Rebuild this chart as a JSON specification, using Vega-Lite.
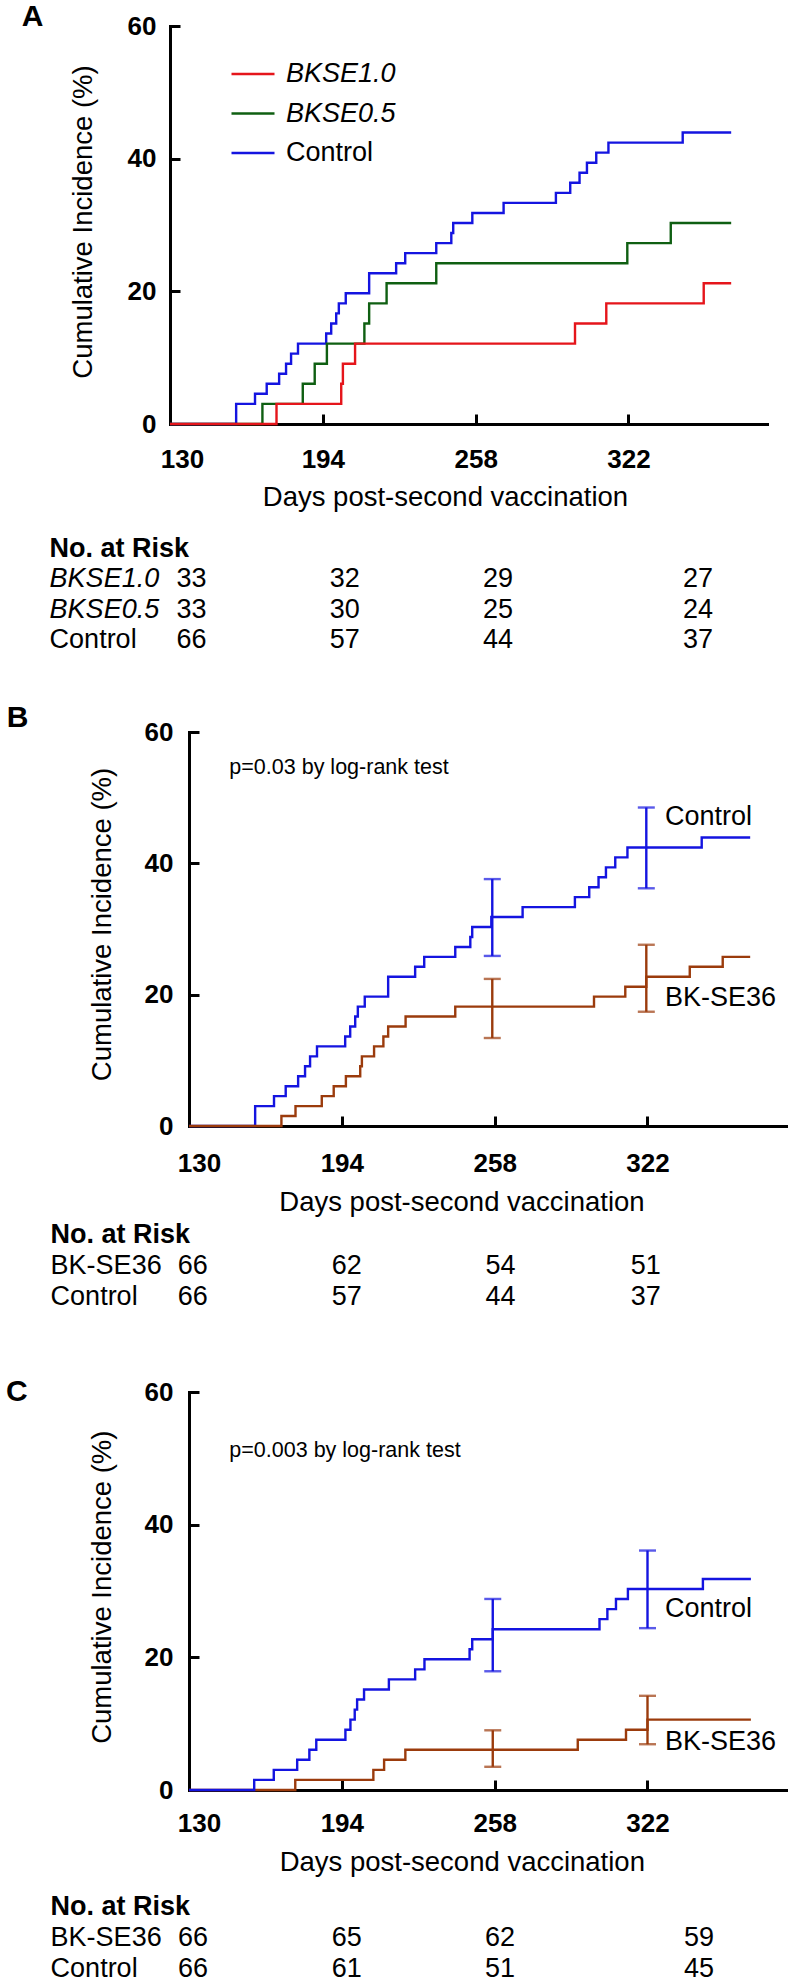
{
  "$schema": "https://vega.github.io/schema/vega-lite/v6.json",
  "autosize": {"type": "none"},
  "padding": {"left": 170, "top": 26, "right": 623, "bottom": 1958},
  "background": "white",
  "spacing": 0,
  "bounds": "flush",
  "resolve": {"scale": {"color": "independent"}, "legend": {"color": "independent"}},
  "config": {
    "view": {"stroke": null},
    "font": "Liberation Sans",
    "axis": {
      "grid": false, "domainColor": "black", "domainWidth": 3, "domainCap": "square",
      "tickColor": "black", "tickWidth": 3, "tickSize": -10,
      "labelFont": "Liberation Sans", "labelFontSize": 26, "labelFontWeight": "bold", "labelColor": "black",
      "labelFlush": false, "labelOverlap": false,
      "titleFont": "Liberation Sans", "titleFontSize": 27.5, "titleFontWeight": "normal", "titleColor": "black"
    },
    "text": {"font": "Liberation Sans", "color": "black"},
    "title": {"font": "Liberation Sans", "color": "black", "fontWeight": "bold", "fontSize": 30, "anchor": "start", "frame": "group", "baseline": "alphabetic"}
  },
  "datasets": {
    "linesA": [
      {"grp": "Control", "day": 130, "pct": 0}, {"grp": "Control", "day": 157.7, "pct": 3.03}, {"grp": "Control", "day": 165.6, "pct": 4.55}, {"grp": "Control", "day": 170.5, "pct": 6.06}, {"grp": "Control", "day": 175.7, "pct": 7.58}, {"grp": "Control", "day": 178.6, "pct": 9.09}, {"grp": "Control", "day": 180.7, "pct": 10.61}, {"grp": "Control", "day": 183.6, "pct": 12.12}, {"grp": "Control", "day": 195.4, "pct": 13.64}, {"grp": "Control", "day": 197.5, "pct": 15.15}, {"grp": "Control", "day": 199.6, "pct": 16.67}, {"grp": "Control", "day": 200.7, "pct": 18.18}, {"grp": "Control", "day": 203.6, "pct": 19.7}, {"grp": "Control", "day": 213.4, "pct": 22.73}, {"grp": "Control", "day": 224.7, "pct": 24.24}, {"grp": "Control", "day": 228.5, "pct": 25.76}, {"grp": "Control", "day": 241.5, "pct": 27.27}, {"grp": "Control", "day": 247.8, "pct": 28.79}, {"grp": "Control", "day": 248.6, "pct": 30.3}, {"grp": "Control", "day": 256.6, "pct": 31.82}, {"grp": "Control", "day": 269.7, "pct": 33.33}, {"grp": "Control", "day": 291.6, "pct": 34.85}, {"grp": "Control", "day": 297.6, "pct": 36.36}, {"grp": "Control", "day": 301.5, "pct": 37.88}, {"grp": "Control", "day": 304.6, "pct": 39.39}, {"grp": "Control", "day": 308.5, "pct": 40.91}, {"grp": "Control", "day": 313.6, "pct": 42.42}, {"grp": "Control", "day": 344.7, "pct": 43.94}, {"grp": "Control", "day": 365, "pct": 43.94},
      {"grp": "BKSE0.5", "day": 130, "pct": 0}, {"grp": "BKSE0.5", "day": 168.7, "pct": 3.03}, {"grp": "BKSE0.5", "day": 185.6, "pct": 6.06}, {"grp": "BKSE0.5", "day": 190.6, "pct": 9.09}, {"grp": "BKSE0.5", "day": 195.7, "pct": 12.12}, {"grp": "BKSE0.5", "day": 211.4, "pct": 15.15}, {"grp": "BKSE0.5", "day": 213.4, "pct": 18.18}, {"grp": "BKSE0.5", "day": 220.7, "pct": 21.21}, {"grp": "BKSE0.5", "day": 241.5, "pct": 24.24}, {"grp": "BKSE0.5", "day": 321.5, "pct": 27.27}, {"grp": "BKSE0.5", "day": 339.7, "pct": 30.3}, {"grp": "BKSE0.5", "day": 365, "pct": 30.3},
      {"grp": "BKSE1.0", "day": 130, "pct": 0}, {"grp": "BKSE1.0", "day": 174.6, "pct": 3.03}, {"grp": "BKSE1.0", "day": 201.7, "pct": 6.06}, {"grp": "BKSE1.0", "day": 202.4, "pct": 9.09}, {"grp": "BKSE1.0", "day": 207.5, "pct": 12.12}, {"grp": "BKSE1.0", "day": 299.6, "pct": 15.15}, {"grp": "BKSE1.0", "day": 312.7, "pct": 18.18}, {"grp": "BKSE1.0", "day": 353.5, "pct": 21.21}, {"grp": "BKSE1.0", "day": 365, "pct": 21.21}
    ],
    "linesB": [
      {"grp": "Control", "day": 130, "pct": 0}, {"grp": "Control", "day": 157.7, "pct": 3.03}, {"grp": "Control", "day": 165.6, "pct": 4.55}, {"grp": "Control", "day": 170.5, "pct": 6.06}, {"grp": "Control", "day": 175.7, "pct": 7.58}, {"grp": "Control", "day": 178.6, "pct": 9.09}, {"grp": "Control", "day": 180.7, "pct": 10.61}, {"grp": "Control", "day": 183.6, "pct": 12.12}, {"grp": "Control", "day": 195.4, "pct": 13.64}, {"grp": "Control", "day": 197.5, "pct": 15.15}, {"grp": "Control", "day": 199.6, "pct": 16.67}, {"grp": "Control", "day": 200.7, "pct": 18.18}, {"grp": "Control", "day": 203.6, "pct": 19.7}, {"grp": "Control", "day": 213.4, "pct": 22.73}, {"grp": "Control", "day": 224.7, "pct": 24.24}, {"grp": "Control", "day": 228.5, "pct": 25.76}, {"grp": "Control", "day": 241.5, "pct": 27.27}, {"grp": "Control", "day": 247.8, "pct": 28.79}, {"grp": "Control", "day": 248.6, "pct": 30.3}, {"grp": "Control", "day": 256.6, "pct": 31.82}, {"grp": "Control", "day": 269.7, "pct": 33.33}, {"grp": "Control", "day": 291.6, "pct": 34.85}, {"grp": "Control", "day": 297.6, "pct": 36.36}, {"grp": "Control", "day": 301.5, "pct": 37.88}, {"grp": "Control", "day": 304.6, "pct": 39.39}, {"grp": "Control", "day": 308.5, "pct": 40.91}, {"grp": "Control", "day": 313.6, "pct": 42.42}, {"grp": "Control", "day": 344.7, "pct": 43.94}, {"grp": "Control", "day": 365, "pct": 43.94},
      {"grp": "BK-SE36", "day": 130, "pct": 0}, {"grp": "BK-SE36", "day": 168.7, "pct": 1.52}, {"grp": "BK-SE36", "day": 174.6, "pct": 3.03}, {"grp": "BK-SE36", "day": 185.6, "pct": 4.55}, {"grp": "BK-SE36", "day": 190.6, "pct": 6.06}, {"grp": "BK-SE36", "day": 195.7, "pct": 7.58}, {"grp": "BK-SE36", "day": 201.7, "pct": 9.09}, {"grp": "BK-SE36", "day": 202.4, "pct": 10.61}, {"grp": "BK-SE36", "day": 207.5, "pct": 12.12}, {"grp": "BK-SE36", "day": 211.4, "pct": 13.64}, {"grp": "BK-SE36", "day": 213.4, "pct": 15.15}, {"grp": "BK-SE36", "day": 220.7, "pct": 16.67}, {"grp": "BK-SE36", "day": 241.5, "pct": 18.18}, {"grp": "BK-SE36", "day": 299.6, "pct": 19.7}, {"grp": "BK-SE36", "day": 312.7, "pct": 21.21}, {"grp": "BK-SE36", "day": 321.5, "pct": 22.73}, {"grp": "BK-SE36", "day": 339.7, "pct": 24.24}, {"grp": "BK-SE36", "day": 353.5, "pct": 25.76}, {"grp": "BK-SE36", "day": 365, "pct": 25.76}
    ],
    "linesC": [
      {"grp": "Control", "day": 130, "pct": 0}, {"grp": "Control", "day": 157.3, "pct": 1.52}, {"grp": "Control", "day": 165.5, "pct": 3.03}, {"grp": "Control", "day": 175.3, "pct": 4.55}, {"grp": "Control", "day": 180.4, "pct": 6.06}, {"grp": "Control", "day": 183.3, "pct": 7.58}, {"grp": "Control", "day": 195.5, "pct": 9.09}, {"grp": "Control", "day": 197.6, "pct": 10.61}, {"grp": "Control", "day": 199.4, "pct": 12.12}, {"grp": "Control", "day": 200.4, "pct": 13.64}, {"grp": "Control", "day": 203.3, "pct": 15.15}, {"grp": "Control", "day": 213.7, "pct": 16.67}, {"grp": "Control", "day": 224.7, "pct": 18.18}, {"grp": "Control", "day": 228.6, "pct": 19.7}, {"grp": "Control", "day": 247.5, "pct": 21.21}, {"grp": "Control", "day": 248.6, "pct": 22.73}, {"grp": "Control", "day": 257.2, "pct": 24.24}, {"grp": "Control", "day": 301.9, "pct": 25.76}, {"grp": "Control", "day": 305.2, "pct": 27.27}, {"grp": "Control", "day": 308.8, "pct": 28.79}, {"grp": "Control", "day": 313.8, "pct": 30.3}, {"grp": "Control", "day": 345.2, "pct": 31.82}, {"grp": "Control", "day": 365.3, "pct": 31.82},
      {"grp": "BK-SE36", "day": 130, "pct": 0}, {"grp": "BK-SE36", "day": 174.5, "pct": 1.52}, {"grp": "BK-SE36", "day": 207.2, "pct": 3.03}, {"grp": "BK-SE36", "day": 211.7, "pct": 4.55}, {"grp": "BK-SE36", "day": 220.6, "pct": 6.06}, {"grp": "BK-SE36", "day": 292.8, "pct": 7.58}, {"grp": "BK-SE36", "day": 313, "pct": 9.09}, {"grp": "BK-SE36", "day": 322, "pct": 10.61}, {"grp": "BK-SE36", "day": 365.3, "pct": 10.61}
    ],
    "errB": [
      {"grp": "Control", "day": 257, "lo": 25.9, "hi": 37.6},
      {"grp": "Control", "day": 321.5, "lo": 36.2, "hi": 48.5},
      {"grp": "BK-SE36", "day": 257, "lo": 13.4, "hi": 22.4},
      {"grp": "BK-SE36", "day": 321.5, "lo": 17.4, "hi": 27.6}
    ],
    "errC": [
      {"grp": "Control", "day": 257.2, "lo": 17.9, "hi": 28.8},
      {"grp": "Control", "day": 322, "lo": 24.4, "hi": 36.1},
      {"grp": "BK-SE36", "day": 257.2, "lo": 3.5, "hi": 9.0},
      {"grp": "BK-SE36", "day": 322, "lo": 6.9, "hi": 14.2}
    ],
    "annB": [
      {"kind": "p", "label": "p=0.03 by log-rank test", "day": 146.9, "pct": 53.6},
      {"kind": "lab", "label": "Control", "day": 329.3, "pct": 45.84},
      {"kind": "lab", "label": "BK-SE36", "day": 329.3, "pct": 18.28}
    ],
    "annC": [
      {"kind": "p", "label": "p=0.003 by log-rank test", "day": 146.9, "pct": 50.25},
      {"kind": "lab", "label": "Control", "day": 329.3, "pct": 26.08},
      {"kind": "lab", "label": "BK-SE36", "day": 329.3, "pct": 6.03}
    ],
    "tableA": [
      {"kind": "head", "row": 0, "col": 0, "label": "No. at Risk"},
      {"kind": "nameit", "row": 1, "col": 0, "label": "BKSE1.0"},
      {"kind": "num", "row": 1, "col": 1, "n": 33}, {"kind": "num", "row": 1, "col": 2, "n": 32}, {"kind": "num", "row": 1, "col": 3, "n": 29}, {"kind": "num", "row": 1, "col": 4, "n": 27},
      {"kind": "nameit", "row": 2, "col": 0, "label": "BKSE0.5"},
      {"kind": "num", "row": 2, "col": 1, "n": 33}, {"kind": "num", "row": 2, "col": 2, "n": 30}, {"kind": "num", "row": 2, "col": 3, "n": 25}, {"kind": "num", "row": 2, "col": 4, "n": 24},
      {"kind": "name", "row": 3, "col": 0, "label": "Control"},
      {"kind": "num", "row": 3, "col": 1, "n": 66}, {"kind": "num", "row": 3, "col": 2, "n": 57}, {"kind": "num", "row": 3, "col": 3, "n": 44}, {"kind": "num", "row": 3, "col": 4, "n": 37}
    ],
    "tableB": [
      {"kind": "head", "row": 0, "col": 0, "label": "No. at Risk"},
      {"kind": "name", "row": 1, "col": 0, "label": "BK-SE36"},
      {"kind": "num", "row": 1, "col": 1, "n": 66}, {"kind": "num", "row": 1, "col": 2, "n": 62}, {"kind": "num", "row": 1, "col": 3, "n": 54}, {"kind": "num", "row": 1, "col": 4, "n": 51},
      {"kind": "name", "row": 2, "col": 0, "label": "Control"},
      {"kind": "num", "row": 2, "col": 1, "n": 66}, {"kind": "num", "row": 2, "col": 2, "n": 57}, {"kind": "num", "row": 2, "col": 3, "n": 44}, {"kind": "num", "row": 2, "col": 4, "n": 37}
    ],
    "tableC": [
      {"kind": "head", "row": 0, "col": 0, "label": "No. at Risk"},
      {"kind": "name", "row": 1, "col": 0, "label": "BK-SE36"},
      {"kind": "num", "row": 1, "col": 1, "n": 66}, {"kind": "num", "row": 1, "col": 2, "n": 65}, {"kind": "num", "row": 1, "col": 3, "n": 62}, {"kind": "num", "row": 1, "col": 4, "n": 59},
      {"kind": "name", "row": 2, "col": 0, "label": "Control"},
      {"kind": "num", "row": 2, "col": 1, "n": 66}, {"kind": "num", "row": 2, "col": 2, "n": 61}, {"kind": "num", "row": 2, "col": 3, "n": 51}, {"kind": "num", "row": 2, "col": 4, "n": 45}
    ]
  },
  "vconcat": [
    {
      "width": 597, "height": 398,
      "title": {"text": "A", "dx": -148.3, "offset": -18.7},
      "data": {"name": "linesA"},
      "encoding": {
        "x": {"field": "day", "type": "quantitative", "scale": {"domain": [130, 380], "nice": false, "zero": false},
          "axis": {"values": [130, 194, 258, 322], "title": "Days post-second vaccination", "labelPadding": 32.6,
            "labelOffset": {"condition": {"test": "datum.value == 130", "value": 12}, "value": 0},
            "titleX": 275, "titleY": 81.4, "titleAlign": "center", "titleBaseline": "alphabetic"}},
        "y": {"field": "pct", "type": "quantitative", "scale": {"domain": [0, 60], "nice": false},
          "axis": {"values": [0, 20, 40, 60], "title": "Cumulative Incidence (%)", "labelPadding": 24,
            "titleX": -78.5, "titleY": 195.5, "titleAlign": "center", "titleBaseline": "alphabetic", "titleAngle": -90}},
        "color": {"field": "grp", "type": "nominal",
          "scale": {"domain": ["BKSE1.0", "BKSE0.5", "Control"], "range": ["#e5151b", "#0f5f12", "#1414e0"]},
          "legend": {"orient": "none", "legendX": 60, "legendY": 25, "title": null, "symbolType": "stroke", "symbolSize": 1849,
            "symbolStrokeWidth": 2.5, "labelFont": "Liberation Sans", "labelFontSize": 27, "labelColor": "black", "labelOffset": 10,
            "rowPadding": 3.5, "padding": 0, "labelLimit": 400,
            "encode": {"labels": {"update": {"fontStyle": {"signal": "datum.label == 'Control' ? 'normal' : 'italic'"}}}}}}
      },
      "layer": [
        {"transform": [{"filter": "datum.grp == 'Control'"}], "mark": {"type": "line", "interpolate": "step-after", "strokeWidth": 2.4}},
        {"transform": [{"filter": "datum.grp == 'BKSE0.5'"}], "mark": {"type": "line", "interpolate": "step-after", "strokeWidth": 2.4}},
        {"transform": [{"filter": "datum.grp == 'BKSE1.0'"}], "mark": {"type": "line", "interpolate": "step-after", "strokeWidth": 2.4}}
      ]
    },
    {
      "width": 597, "height": 308,
      "data": {"name": "tableA"},
      "encoding": {
        "x": {"field": "col", "type": "quantitative", "scale": {"domain": [0, 1, 2, 3, 4], "range": [-120.4, 21.5, 174.7, 328, 528], "zero": false, "nice": false}, "axis": null},
        "y": {"field": "row", "type": "quantitative", "scale": {"domain": [0, 3], "range": [132.7, 224.2], "zero": false, "nice": false}, "axis": null}
      },
      "layer": [
        {"transform": [{"filter": "datum.kind == 'head'"}], "mark": {"type": "text", "align": "left", "baseline": "alphabetic", "fontSize": 27, "fontWeight": "bold"}, "encoding": {"text": {"field": "label"}}},
        {"transform": [{"filter": "datum.kind == 'nameit'"}], "mark": {"type": "text", "align": "left", "baseline": "alphabetic", "fontSize": 27, "fontStyle": "italic"}, "encoding": {"text": {"field": "label"}}},
        {"transform": [{"filter": "datum.kind == 'name'"}], "mark": {"type": "text", "align": "left", "baseline": "alphabetic", "fontSize": 27}, "encoding": {"text": {"field": "label"}}},
        {"transform": [{"filter": "datum.kind == 'num'"}], "mark": {"type": "text", "align": "center", "baseline": "alphabetic", "fontSize": 27}, "encoding": {"text": {"field": "n", "type": "quantitative"}}}
      ]
    },
    {
      "width": 616, "height": 394,
      "title": {"text": "B", "dx": -163.3, "offset": -14.3},
      "layer": [
        {
          "data": {"name": "linesB"},
          "transform": [{"filter": "datum.grp == 'Control'"}],
          "mark": {"type": "line", "interpolate": "step-after", "strokeWidth": 2.4, "color": "#1414e0"},
          "encoding": {
            "x": {"field": "day", "type": "quantitative", "scale": {"domain": [130, 380], "range": [19, 616], "nice": false, "zero": false},
              "axis": {"values": [130, 194, 258, 322], "title": "Days post-second vaccination", "labelPadding": 34,
                "labelOffset": {"condition": {"test": "datum.value == 130", "value": 10}, "value": 0},
                "titleX": 291.5, "titleY": 84.4, "titleAlign": "center", "titleBaseline": "alphabetic"}},
            "y": {"field": "pct", "type": "quantitative", "scale": {"domain": [0, 60], "nice": false},
              "axis": {"values": [0, 20, 40, 60], "title": "Cumulative Incidence (%)", "labelPadding": 26, "offset": -19,
                "titleX": -78.5, "titleY": 192, "titleAlign": "center", "titleBaseline": "alphabetic", "titleAngle": -90}}
          }
        },
        {
          "data": {"name": "linesB"},
          "transform": [{"filter": "datum.grp == 'BK-SE36'"}],
          "mark": {"type": "line", "interpolate": "step-after", "strokeWidth": 2.4, "color": "#9b3b0c"},
          "encoding": {"x": {"field": "day", "type": "quantitative"}, "y": {"field": "pct", "type": "quantitative"}}
        },
        {
          "data": {"name": "errB"},
          "mark": {"type": "rule", "strokeWidth": 2.4},
          "encoding": {"x": {"field": "day", "type": "quantitative"}, "y": {"field": "lo", "type": "quantitative"}, "y2": {"field": "hi"},
            "color": {"field": "grp", "type": "nominal", "scale": {"domain": ["BK-SE36", "Control"], "range": ["#9b3b0c", "#1414e0"]}, "legend": null}}
        },
        {
          "data": {"name": "errB"},
          "mark": {"type": "tick", "orient": "horizontal", "thickness": 2.4, "size": 17},
          "encoding": {"x": {"field": "day", "type": "quantitative"}, "y": {"field": "lo", "type": "quantitative"},
            "color": {"field": "grp", "type": "nominal", "legend": null}}
        },
        {
          "data": {"name": "errB"},
          "mark": {"type": "tick", "orient": "horizontal", "thickness": 2.4, "size": 17},
          "encoding": {"x": {"field": "day", "type": "quantitative"}, "y": {"field": "hi", "type": "quantitative"},
            "color": {"field": "grp", "type": "nominal", "legend": null}}
        },
        {
          "data": {"name": "annB"},
          "transform": [{"filter": "datum.kind == 'p'"}],
          "mark": {"type": "text", "align": "left", "baseline": "alphabetic", "fontSize": 21.5},
          "encoding": {"x": {"field": "day", "type": "quantitative"}, "y": {"field": "pct", "type": "quantitative"}, "text": {"field": "label"}}
        },
        {
          "data": {"name": "annB"},
          "transform": [{"filter": "datum.kind == 'lab'"}],
          "mark": {"type": "text", "align": "left", "baseline": "alphabetic", "fontSize": 27},
          "encoding": {"x": {"field": "day", "type": "quantitative"}, "y": {"field": "pct", "type": "quantitative"}, "text": {"field": "label"}}
        }
      ]
    },
    {
      "width": 597, "height": 266,
      "data": {"name": "tableB"},
      "encoding": {
        "x": {"field": "col", "type": "quantitative", "scale": {"domain": [0, 1, 2, 3, 4], "range": [-119.4, 22.8, 176.7, 330.5, 475.8], "zero": false, "nice": false}, "axis": null},
        "y": {"field": "row", "type": "quantitative", "scale": {"domain": [0, 2], "range": [117.3, 178.5], "zero": false, "nice": false}, "axis": null}
      },
      "layer": [
        {"transform": [{"filter": "datum.kind == 'head'"}], "mark": {"type": "text", "align": "left", "baseline": "alphabetic", "fontSize": 27, "fontWeight": "bold"}, "encoding": {"text": {"field": "label"}}},
        {"transform": [{"filter": "datum.kind == 'name'"}], "mark": {"type": "text", "align": "left", "baseline": "alphabetic", "fontSize": 27}, "encoding": {"text": {"field": "label"}}},
        {"transform": [{"filter": "datum.kind == 'num'"}], "mark": {"type": "text", "align": "center", "baseline": "alphabetic", "fontSize": 27}, "encoding": {"text": {"field": "n", "type": "quantitative"}}}
      ]
    },
    {
      "width": 616, "height": 398,
      "title": {"text": "C", "dx": -164, "offset": -28},
      "layer": [
        {
          "data": {"name": "linesC"},
          "transform": [{"filter": "datum.grp == 'BK-SE36'"}],
          "mark": {"type": "line", "interpolate": "step-after", "strokeWidth": 2.4, "color": "#9b3b0c"},
          "encoding": {
            "x": {"field": "day", "type": "quantitative", "scale": {"domain": [130, 380], "range": [19, 616], "nice": false, "zero": false},
              "axis": {"values": [130, 194, 258, 322], "title": "Days post-second vaccination", "labelPadding": 30.5,
                "labelOffset": {"condition": {"test": "datum.value == 130", "value": 10}, "value": 0},
                "titleX": 291.8, "titleY": 80.4, "titleAlign": "center", "titleBaseline": "alphabetic"}},
            "y": {"field": "pct", "type": "quantitative", "scale": {"domain": [0, 60], "nice": false},
              "axis": {"values": [0, 20, 40, 60], "title": "Cumulative Incidence (%)", "labelPadding": 26, "offset": -19,
                "titleX": -78.5, "titleY": 194.7, "titleAlign": "center", "titleBaseline": "alphabetic", "titleAngle": -90}}
          }
        },
        {
          "data": {"name": "linesC"},
          "transform": [{"filter": "datum.grp == 'Control'"}],
          "mark": {"type": "line", "interpolate": "step-after", "strokeWidth": 2.4, "color": "#1414e0"},
          "encoding": {"x": {"field": "day", "type": "quantitative"}, "y": {"field": "pct", "type": "quantitative"}}
        },
        {
          "data": {"name": "errC"},
          "mark": {"type": "rule", "strokeWidth": 2.4},
          "encoding": {"x": {"field": "day", "type": "quantitative"}, "y": {"field": "lo", "type": "quantitative"}, "y2": {"field": "hi"},
            "color": {"field": "grp", "type": "nominal", "scale": {"domain": ["BK-SE36", "Control"], "range": ["#9b3b0c", "#1414e0"]}, "legend": null}}
        },
        {
          "data": {"name": "errC"},
          "mark": {"type": "tick", "orient": "horizontal", "thickness": 2.4, "size": 17},
          "encoding": {"x": {"field": "day", "type": "quantitative"}, "y": {"field": "lo", "type": "quantitative"},
            "color": {"field": "grp", "type": "nominal", "legend": null}}
        },
        {
          "data": {"name": "errC"},
          "mark": {"type": "tick", "orient": "horizontal", "thickness": 2.4, "size": 17},
          "encoding": {"x": {"field": "day", "type": "quantitative"}, "y": {"field": "hi", "type": "quantitative"},
            "color": {"field": "grp", "type": "nominal", "legend": null}}
        },
        {
          "data": {"name": "annC"},
          "transform": [{"filter": "datum.kind == 'p'"}],
          "mark": {"type": "text", "align": "left", "baseline": "alphabetic", "fontSize": 21.5},
          "encoding": {"x": {"field": "day", "type": "quantitative"}, "y": {"field": "pct", "type": "quantitative"}, "text": {"field": "label"}}
        },
        {
          "data": {"name": "annC"},
          "transform": [{"filter": "datum.kind == 'lab'"}],
          "mark": {"type": "text", "align": "left", "baseline": "alphabetic", "fontSize": 27},
          "encoding": {"x": {"field": "day", "type": "quantitative"}, "y": {"field": "pct", "type": "quantitative"}, "text": {"field": "label"}}
        }
      ]
    },
    {
      "width": 597, "height": 194,
      "data": {"name": "tableC"},
      "encoding": {
        "x": {"field": "col", "type": "quantitative", "scale": {"domain": [0, 1, 2, 3, 4], "range": [-119.4, 23, 176.7, 330, 529], "zero": false, "nice": false}, "axis": null},
        "y": {"field": "row", "type": "quantitative", "scale": {"domain": [0, 2], "range": [125, 186.7], "zero": false, "nice": false}, "axis": null}
      },
      "layer": [
        {"transform": [{"filter": "datum.kind == 'head'"}], "mark": {"type": "text", "align": "left", "baseline": "alphabetic", "fontSize": 27, "fontWeight": "bold"}, "encoding": {"text": {"field": "label"}}},
        {"transform": [{"filter": "datum.kind == 'name'"}], "mark": {"type": "text", "align": "left", "baseline": "alphabetic", "fontSize": 27}, "encoding": {"text": {"field": "label"}}},
        {"transform": [{"filter": "datum.kind == 'num'"}], "mark": {"type": "text", "align": "center", "baseline": "alphabetic", "fontSize": 27}, "encoding": {"text": {"field": "n", "type": "quantitative"}}}
      ]
    }
  ]
}
